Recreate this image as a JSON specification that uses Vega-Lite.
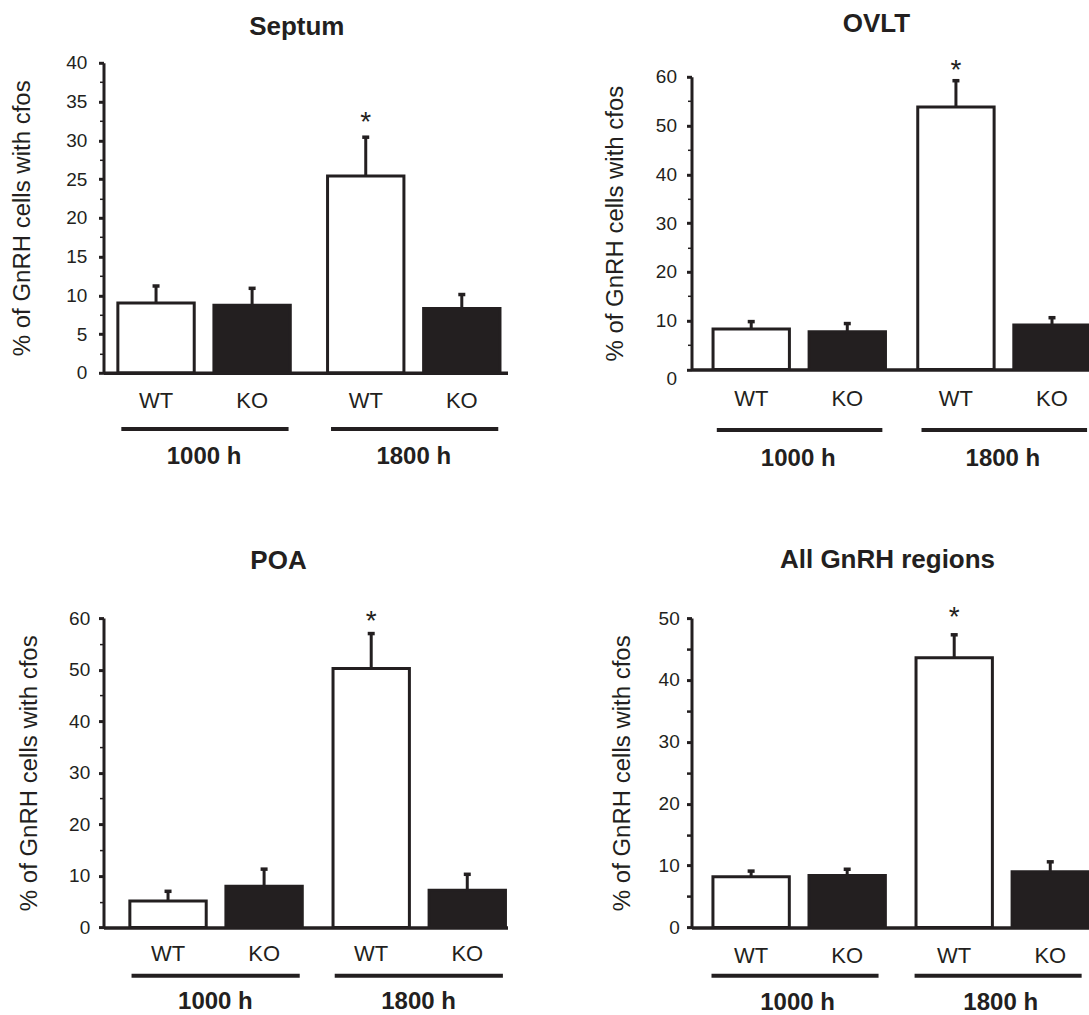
{
  "$schema": "https://vega.github.io/schema/vega-lite/v6.json",
  "background": "white",
  "padding": {"left": 10.5, "top": 10.8, "right": 0, "bottom": 0},
  "columns": 2,
  "bounds": "flush",
  "spacing": {"row": 245.3, "column": 184},
  "config": {
    "font": "Liberation Sans",
    "view": {"stroke": null},
    "axis": {"domainColor": "#231f20", "tickColor": "#231f20", "labelColor": "#231f20", "titleColor": "#231f20", "grid": false, "labelFont": "Liberation Sans", "titleFont": "Liberation Sans"},
    "title": {"color": "#231f20", "fontSize": 26, "fontWeight": "bold", "font": "Liberation Sans", "anchor": "middle"}
  },
  "concat": [
    {
      "width": 404, "height": 310,
      "title": {"text": "Septum", "dx": -8.7, "offset": -7.7, "frame": "group", "baseline": "alphabetic"},
      "data": {"values": [
        {"time": "1000 h", "genotype": "WT", "value": 9.0, "upper": 11.2, "sig": ""},
        {"time": "1000 h", "genotype": "KO", "value": 8.7, "upper": 10.9, "sig": ""},
        {"time": "1800 h", "genotype": "WT", "value": 25.4, "upper": 30.4, "sig": "*"},
        {"time": "1800 h", "genotype": "KO", "value": 8.3, "upper": 10.1, "sig": ""}
      ]},
      "resolve": {"axis": {"y": "independent"}},
      "encoding": {
        "x": {"field": "time", "type": "nominal", "sort": ["1000 h", "1800 h"],
          "scale": {"paddingInner": 0.164, "paddingOuter": 0.0453, "align": 0.68},
          "axis": {"title": null, "domainWidth": 3.5, "ticks": false, "tickSize": 0, "labelAngle": 0, "labelFontSize": 24, "labelFontWeight": "bold", "labelPadding": 72}}
      },
      "layer": [
        {"mark": {"type": "bar", "stroke": "#231f20", "strokeWidth": 3},
         "encoding": {
           "xOffset": {"field": "genotype", "type": "nominal", "sort": ["WT", "KO"], "scale": {"paddingInner": 0.205, "paddingOuter": 0.015}},
           "y": {"field": "value", "type": "quantitative", "scale": {"domain": [0, 40], "nice": false},
             "axis": {"orient": "left", "title": "% of GnRH cells with cfos", "titleFontSize": 24, "titleFontWeight": "normal", "titlePadding": 31,
               "values": [0, 5, 10, 15, 20, 25, 30, 35, 40],
               "labelFontSize": 19, "labelPadding": 11.6, "labelOverlap": false, "labelFlush": false,
               "tickSize": 5, "tickWidth": 3, "domainWidth": 3}},
           "fill": {"field": "genotype", "type": "nominal", "scale": {"domain": ["WT", "KO"], "range": ["#ffffff", "#231f20"]}, "legend": null}
         }},
        {"mark": {"type": "rule", "strokeWidth": 3, "color": "#231f20"},
         "encoding": {
           "xOffset": {"field": "genotype", "type": "nominal", "sort": ["WT", "KO"]},
           "y": {"field": "value", "type": "quantitative",
             "axis": {"orient": "left", "title": null, "labels": false, "domain": false, "values": [2.5, 7.5, 12.5, 17.5, 22.5, 27.5, 32.5, 37.5], "tickSize": 4, "tickWidth": 1.5}},
           "y2": {"field": "upper"}}},
        {"mark": {"type": "tick", "color": "#231f20", "size": 7, "thickness": 3.5, "opacity": 1},
         "encoding": {
           "xOffset": {"field": "genotype", "type": "nominal", "sort": ["WT", "KO"]},
           "y": {"field": "upper", "type": "quantitative", "axis": null}}},
        {"mark": {"type": "text", "fontSize": 28, "baseline": "alphabetic", "dy": -6.5, "color": "#231f20"},
         "encoding": {
           "xOffset": {"field": "genotype", "type": "nominal", "sort": ["WT", "KO"]},
           "y": {"field": "upper", "type": "quantitative", "axis": null},
           "text": {"field": "sig"}}},
        {"mark": {"type": "text", "fontSize": 22, "baseline": "middle", "color": "#231f20"},
         "encoding": {
           "xOffset": {"field": "genotype", "type": "nominal", "sort": ["WT", "KO"]},
           "y": {"datum": -3.64, "type": "quantitative", "axis": null},
           "text": {"field": "genotype"}}},
        {"transform": [{"filter": "datum.genotype === 'WT'"}],
         "mark": {"type": "rule", "strokeWidth": 4, "color": "#231f20"},
         "encoding": {
           "x": {"field": "time", "type": "nominal", "bandPosition": 0.028},
           "x2": {"field": "time", "bandPosition": 0.982},
           "y": {"datum": -7.26, "type": "quantitative", "axis": null}}}
      ]
    },
    {
      "width": 398, "height": 306.6,
      "title": {"text": "OVLT", "dx": -14, "offset": -0.9, "frame": "group", "baseline": "alphabetic"},
      "data": {"values": [
        {"time": "1000 h", "genotype": "WT", "value": 8.3, "upper": 9.8, "sig": ""},
        {"time": "1000 h", "genotype": "KO", "value": 7.7, "upper": 9.4, "sig": ""},
        {"time": "1800 h", "genotype": "WT", "value": 53.8, "upper": 59.2, "sig": "*"},
        {"time": "1800 h", "genotype": "KO", "value": 9.1, "upper": 10.6, "sig": ""}
      ]},
      "resolve": {"axis": {"y": "independent"}},
      "encoding": {
        "x": {"field": "time", "type": "nominal", "sort": ["1000 h", "1800 h"],
          "scale": {"paddingInner": 0.154, "paddingOuter": 0.0491, "align": 1},
          "axis": {"title": null, "domainWidth": 3.5, "ticks": false, "tickSize": 0, "labelAngle": 0, "labelFontSize": 24, "labelFontWeight": "bold", "labelPadding": 77}}
      },
      "layer": [
        {"mark": {"type": "bar", "stroke": "#231f20", "strokeWidth": 3},
         "encoding": {
           "xOffset": {"field": "genotype", "type": "nominal", "sort": ["WT", "KO"], "scale": {"paddingInner": 0.19, "paddingOuter": 0.0157}},
           "y": {"field": "value", "type": "quantitative", "scale": {"domain": [0, 60], "nice": false, "range": [306.6, 14]},
             "axis": {"orient": "left", "title": "% of GnRH cells with cfos", "titleFontSize": 24, "titleFontWeight": "normal", "titlePadding": 28,
               "values": [0, 10, 20, 30, 40, 50, 60],
               "labelOffset": {"condition": {"test": "datum.value === 0", "value": 9}, "value": 0},
               "labelFontSize": 19, "labelPadding": 10, "labelOverlap": false, "labelFlush": false,
               "tickSize": 5, "tickWidth": 3, "domainWidth": 3}},
           "fill": {"field": "genotype", "type": "nominal", "scale": {"domain": ["WT", "KO"], "range": ["#ffffff", "#231f20"]}, "legend": null}
         }},
        {"mark": {"type": "rule", "strokeWidth": 3, "color": "#231f20"},
         "encoding": {
           "xOffset": {"field": "genotype", "type": "nominal", "sort": ["WT", "KO"]},
           "y": {"field": "value", "type": "quantitative",
             "axis": {"orient": "left", "title": null, "labels": false, "domain": false, "values": [5, 15, 25, 35, 45, 55], "tickSize": 4, "tickWidth": 1.5}},
           "y2": {"field": "upper"}}},
        {"mark": {"type": "tick", "color": "#231f20", "size": 7, "thickness": 3.5, "opacity": 1},
         "encoding": {
           "xOffset": {"field": "genotype", "type": "nominal", "sort": ["WT", "KO"]},
           "y": {"field": "upper", "type": "quantitative", "axis": null}}},
        {"mark": {"type": "text", "fontSize": 28, "baseline": "alphabetic", "dy": -1.5, "color": "#231f20"},
         "encoding": {
           "xOffset": {"field": "genotype", "type": "nominal", "sort": ["WT", "KO"]},
           "y": {"field": "upper", "type": "quantitative", "axis": null},
           "text": {"field": "sig"}}},
        {"mark": {"type": "text", "fontSize": 22, "baseline": "middle", "color": "#231f20"},
         "encoding": {
           "xOffset": {"field": "genotype", "type": "nominal", "sort": ["WT", "KO"]},
           "y": {"datum": -6.13, "type": "quantitative", "axis": null},
           "text": {"field": "genotype"}}},
        {"transform": [{"filter": "datum.genotype === 'WT'"}],
         "mark": {"type": "rule", "strokeWidth": 4, "color": "#231f20"},
         "encoding": {
           "x": {"field": "time", "type": "nominal", "bandPosition": 0.03},
           "x2": {"field": "time", "bandPosition": 0.986},
           "y": {"datum": -12.45, "type": "quantitative", "axis": null}}}
      ]
    },
    {
      "width": 404, "height": 309.3,
      "title": {"text": "POA", "dx": -27, "offset": 12.1, "frame": "group", "baseline": "alphabetic"},
      "data": {"values": [
        {"time": "1000 h", "genotype": "WT", "value": 5.1, "upper": 7.0, "sig": ""},
        {"time": "1000 h", "genotype": "KO", "value": 8.0, "upper": 11.3, "sig": ""},
        {"time": "1800 h", "genotype": "WT", "value": 50.2, "upper": 57.0, "sig": "*"},
        {"time": "1800 h", "genotype": "KO", "value": 7.2, "upper": 10.3, "sig": ""}
      ]},
      "resolve": {"axis": {"y": "independent"}},
      "encoding": {
        "x": {"field": "time", "type": "nominal", "sort": ["1000 h", "1800 h"],
          "scale": {"paddingInner": 0.144, "paddingOuter": 0.0662, "align": 0.926},
          "axis": {"title": null, "domainWidth": 3.5, "ticks": false, "tickSize": 0, "labelAngle": 0, "labelFontSize": 24, "labelFontWeight": "bold", "labelPadding": 62.3}}
      },
      "layer": [
        {"mark": {"type": "bar", "stroke": "#231f20", "strokeWidth": 3},
         "encoding": {
           "xOffset": {"field": "genotype", "type": "nominal", "sort": ["WT", "KO"], "scale": {"paddingInner": 0.18, "paddingOuter": 0.0157}},
           "y": {"field": "value", "type": "quantitative", "scale": {"domain": [0, 60], "nice": false},
             "axis": {"orient": "left", "title": "% of GnRH cells with cfos", "titleFontSize": 24, "titleFontWeight": "normal", "titlePadding": 27.4,
               "values": [0, 10, 20, 30, 40, 50, 60],
               "labelFontSize": 19, "labelPadding": 8.8, "labelOverlap": false, "labelFlush": false,
               "tickSize": 5, "tickWidth": 3, "domainWidth": 3}},
           "fill": {"field": "genotype", "type": "nominal", "scale": {"domain": ["WT", "KO"], "range": ["#ffffff", "#231f20"]}, "legend": null}
         }},
        {"mark": {"type": "rule", "strokeWidth": 3, "color": "#231f20"},
         "encoding": {
           "xOffset": {"field": "genotype", "type": "nominal", "sort": ["WT", "KO"]},
           "y": {"field": "value", "type": "quantitative",
             "axis": {"orient": "left", "title": null, "labels": false, "domain": false, "values": [5, 15, 25, 35, 45, 55], "tickSize": 4, "tickWidth": 1.5}},
           "y2": {"field": "upper"}}},
        {"mark": {"type": "tick", "color": "#231f20", "size": 7, "thickness": 3.5, "opacity": 1},
         "encoding": {
           "xOffset": {"field": "genotype", "type": "nominal", "sort": ["WT", "KO"]},
           "y": {"field": "upper", "type": "quantitative", "axis": null}}},
        {"mark": {"type": "text", "fontSize": 28, "baseline": "alphabetic", "dy": -4, "color": "#231f20"},
         "encoding": {
           "xOffset": {"field": "genotype", "type": "nominal", "sort": ["WT", "KO"]},
           "y": {"field": "upper", "type": "quantitative", "axis": null},
           "text": {"field": "sig"}}},
        {"mark": {"type": "text", "fontSize": 22, "baseline": "middle", "color": "#231f20"},
         "encoding": {
           "xOffset": {"field": "genotype", "type": "nominal", "sort": ["WT", "KO"]},
           "y": {"datum": -5.22, "type": "quantitative", "axis": null},
           "text": {"field": "genotype"}}},
        {"transform": [{"filter": "datum.genotype === 'WT'"}],
         "mark": {"type": "rule", "strokeWidth": 4, "color": "#231f20"},
         "encoding": {
           "x": {"field": "time", "type": "nominal", "bandPosition": 0.018},
           "x2": {"field": "time", "bandPosition": 0.985},
           "y": {"datum": -9.39, "type": "quantitative", "axis": null}}}
      ]
    },
    {
      "width": 398, "height": 309.3,
      "title": {"text": "All GnRH regions", "dx": -3, "offset": 10.1, "frame": "group", "baseline": "alphabetic"},
      "data": {"values": [
        {"time": "1000 h", "genotype": "WT", "value": 8.2, "upper": 9.1, "sig": ""},
        {"time": "1000 h", "genotype": "KO", "value": 8.4, "upper": 9.4, "sig": ""},
        {"time": "1800 h", "genotype": "WT", "value": 43.6, "upper": 47.3, "sig": "*"},
        {"time": "1800 h", "genotype": "KO", "value": 9.0, "upper": 10.6, "sig": ""}
      ]},
      "resolve": {"axis": {"y": "independent"}},
      "encoding": {
        "x": {"field": "time", "type": "nominal", "sort": ["1000 h", "1800 h"],
          "scale": {"paddingInner": 0.152, "paddingOuter": 0.0559, "align": 0.881},
          "axis": {"title": null, "domainWidth": 3.5, "ticks": false, "tickSize": 0, "labelAngle": 0, "labelFontSize": 24, "labelFontWeight": "bold", "labelPadding": 63}}
      },
      "layer": [
        {"mark": {"type": "bar", "stroke": "#231f20", "strokeWidth": 3},
         "encoding": {
           "xOffset": {"field": "genotype", "type": "nominal", "sort": ["WT", "KO"], "scale": {"paddingInner": 0.185, "paddingOuter": 0.0159}},
           "y": {"field": "value", "type": "quantitative", "scale": {"domain": [0, 50], "nice": false},
             "axis": {"orient": "left", "title": "% of GnRH cells with cfos", "titleFontSize": 24, "titleFontWeight": "normal", "titlePadding": 23.9,
               "values": [0, 10, 20, 30, 40, 50],
               "labelFontSize": 19, "labelPadding": 7.3, "labelOverlap": false, "labelFlush": false,
               "tickSize": 5, "tickWidth": 3, "domainWidth": 3}},
           "fill": {"field": "genotype", "type": "nominal", "scale": {"domain": ["WT", "KO"], "range": ["#ffffff", "#231f20"]}, "legend": null}
         }},
        {"mark": {"type": "rule", "strokeWidth": 3, "color": "#231f20"},
         "encoding": {
           "xOffset": {"field": "genotype", "type": "nominal", "sort": ["WT", "KO"]},
           "y": {"field": "value", "type": "quantitative",
             "axis": {"orient": "left", "title": null, "labels": false, "domain": false, "values": [5, 15, 25, 35, 45], "tickSize": 5, "tickWidth": 2.5}},
           "y2": {"field": "upper"}}},
        {"mark": {"type": "tick", "color": "#231f20", "size": 7, "thickness": 3.5, "opacity": 1},
         "encoding": {
           "xOffset": {"field": "genotype", "type": "nominal", "sort": ["WT", "KO"]},
           "y": {"field": "upper", "type": "quantitative", "axis": null}}},
        {"mark": {"type": "text", "fontSize": 28, "baseline": "alphabetic", "dy": -9, "color": "#231f20"},
         "encoding": {
           "xOffset": {"field": "genotype", "type": "nominal", "sort": ["WT", "KO"]},
           "y": {"field": "upper", "type": "quantitative", "axis": null},
           "text": {"field": "sig"}}},
        {"mark": {"type": "text", "fontSize": 22, "baseline": "middle", "color": "#231f20"},
         "encoding": {
           "xOffset": {"field": "genotype", "type": "nominal", "sort": ["WT", "KO"]},
           "y": {"datum": -4.62, "type": "quantitative", "axis": null},
           "text": {"field": "genotype"}}},
        {"transform": [{"filter": "datum.genotype === 'WT'"}],
         "mark": {"type": "rule", "strokeWidth": 4, "color": "#231f20"},
         "encoding": {
           "x": {"field": "time", "type": "nominal", "bandPosition": 0.0},
           "x2": {"field": "time", "bandPosition": 0.97},
           "y": {"datum": -7.82, "type": "quantitative", "axis": null}}}
      ]
    }
  ]
}
